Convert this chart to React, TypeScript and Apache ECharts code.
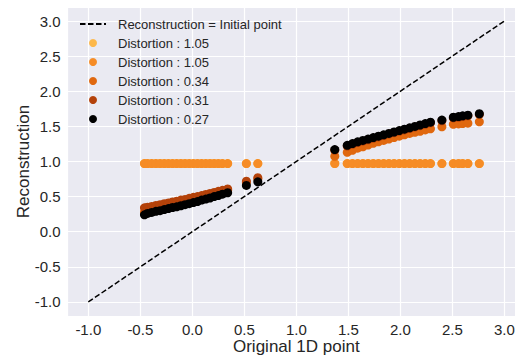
import React, { useEffect, useRef } from "react";
import * as echarts from "echarts";

// Original 1D points (x)
const originalPoints = [
  -0.46, -0.43, -0.39, -0.35, -0.31, -0.27, -0.23, -0.19, -0.15, -0.11, -0.07,
  -0.03, 0.01, 0.05, 0.09, 0.13, 0.17, 0.21, 0.25, 0.29, 0.34,
  0.52, 0.63,
  1.37, 1.49, 1.54, 1.59, 1.64, 1.69, 1.74, 1.79, 1.84, 1.89, 1.94, 1.99, 2.04,
  2.09, 2.14, 2.19, 2.24, 2.29, 2.40, 2.51, 2.56, 2.60, 2.65, 2.76,
];

// Reconstructions for each quantizer
const reconDistortion105a = [
  0.97, 0.97, 0.97, 0.97, 0.97, 0.97, 0.97, 0.97, 0.97, 0.97, 0.97,
  0.97, 0.97, 0.97, 0.97, 0.97, 0.97, 0.97, 0.97, 0.97, 0.97,
  0.97, 0.97,
  0.97, 0.97, 0.97, 0.97, 0.97, 0.97, 0.97, 0.97, 0.97, 0.97, 0.97, 0.97, 0.97,
  0.97, 0.97, 0.97, 0.97, 0.97, 0.97, 0.97, 0.97, 0.97, 0.97, 0.97,
];
const reconDistortion105b = [
  0.97, 0.97, 0.97, 0.97, 0.97, 0.97, 0.97, 0.97, 0.97, 0.97, 0.97,
  0.97, 0.97, 0.97, 0.97, 0.97, 0.97, 0.97, 0.97, 0.97, 0.97,
  0.97, 0.97,
  0.97, 0.97, 0.97, 0.97, 0.97, 0.97, 0.97, 0.97, 0.97, 0.97, 0.97, 0.97, 0.97,
  0.97, 0.97, 0.97, 0.97, 0.97, 0.97, 0.97, 0.97, 0.97, 0.97, 0.97,
];
const reconDistortion034 = [
  0.28, 0.295, 0.31, 0.325, 0.335, 0.35, 0.365, 0.38, 0.39, 0.405, 0.42,
  0.435, 0.45, 0.465, 0.485, 0.5, 0.515, 0.535, 0.55, 0.57, 0.59,
  0.7, 0.75,
  1.075, 1.13, 1.16, 1.19, 1.21, 1.235, 1.26, 1.28, 1.3, 1.32, 1.34, 1.36, 1.38,
  1.4, 1.415, 1.43, 1.45, 1.465, 1.495, 1.53, 1.535, 1.54, 1.545, 1.565,
];
const reconDistortion031 = [
  0.34, 0.35, 0.36, 0.375, 0.385, 0.4, 0.41, 0.425, 0.435, 0.45, 0.46,
  0.475, 0.49, 0.5, 0.515, 0.53, 0.545, 0.56, 0.575, 0.59, 0.61,
  0.72, 0.77,
  1.16, 1.22, 1.245, 1.27, 1.29, 1.31, 1.33, 1.35, 1.37, 1.39, 1.41, 1.43, 1.45,
  1.47, 1.49, 1.51, 1.53, 1.55, 1.58, 1.62, 1.63, 1.64, 1.65, 1.67,
];
const reconDistortion027 = [
  0.24, 0.26, 0.275, 0.29, 0.3, 0.315, 0.33, 0.345, 0.355, 0.37, 0.385,
  0.4, 0.415, 0.43, 0.45, 0.465, 0.48, 0.5, 0.515, 0.535, 0.555,
  0.66, 0.71,
  1.17, 1.23, 1.255, 1.28, 1.3, 1.32, 1.34, 1.36, 1.38, 1.4, 1.42, 1.44, 1.46,
  1.48, 1.5, 1.52, 1.54, 1.56, 1.59, 1.63, 1.64, 1.65, 1.66, 1.68,
];

const identityLine = [
  [-1, -1],
  [3, 3],
];

const seriesKeys = ["s1", "s2", "s3", "s4", "s5"];
const seriesLabels = [
  "Distortion : 1.05",
  "Distortion : 1.05",
  "Distortion : 0.34",
  "Distortion : 0.31",
  "Distortion : 0.27",
];
const seriesValues = [
  reconDistortion105a,
  reconDistortion105b,
  reconDistortion034,
  reconDistortion031,
  reconDistortion027,
];
const seriesColors = ["#FDB84A", "#F68C26", "#E0680F", "#B4420A", "#000000"];

const lineName = "Reconstruction = Initial point";

const FONT = "Liberation Sans, Arial, sans-serif";
const TEXT = "#262626";

export default function App() {
  const ref = useRef<HTMLDivElement>(null);

  useEffect(() => {
    if (!ref.current) return;
    const chart = echarts.init(ref.current, undefined, { renderer: "svg" });

    const labelMap: Record<string, string> = { [lineName]: lineName };
    seriesKeys.forEach((k, i) => (labelMap[k] = seriesLabels[i]));

    const scatterSeries = seriesKeys.map((key, i) => ({
      name: key,
      type: "scatter",
      z: 2,
      symbol: "circle",
      symbolSize: 9,
      itemStyle: { color: seriesColors[i], opacity: 1 },
      data: originalPoints.map((x, j) => [x, seriesValues[i][j]]),
    }));

    chart.setOption({
      animation: false,
      backgroundColor: "#ffffff",
      textStyle: { fontFamily: FONT },
      grid: {
        left: 67.5,
        top: 7,
        width: 457.6,
        height: 309,
        show: true,
        backgroundColor: "#EAEAF2",
        borderWidth: 0,
        containLabel: false,
        outerBoundsMode: "none",
      },
      legend: {
        show: true,
        orient: "vertical",
        left: 79,
        top: 17,
        padding: 0,
        itemWidth: 26,
        itemHeight: 8,
        itemGap: 5,
        data: [
          { name: lineName, itemStyle: { opacity: 0 } },
          ...seriesKeys.map((k) => ({ name: k, icon: "circle" })),
        ],
        formatter: (name: string) => labelMap[name] ?? name,
        textStyle: {
          fontFamily: FONT,
          fontSize: 13,
          color: TEXT,
          lineHeight: 14,
          padding: [0, 0, 0, 7],
        },
      },
      xAxis: {
        type: "value",
        min: -1.2,
        max: 3.2,
        splitNumber: 9,
        name: "Original 1D point",
        nameLocation: "middle",
        nameGap: 22,
        nameMoveOverlap: false,
        nameTextStyle: {
          fontFamily: FONT,
          fontSize: 17,
          lineHeight: 17,
          color: TEXT,
        },
        axisLine: { show: false },
        axisTick: { show: false },
        axisLabel: {
          fontFamily: FONT,
          fontSize: 15,
          color: TEXT,
          margin: 6,
          showMinLabel: false,
          showMaxLabel: false,
          formatter: (v: number) => v.toFixed(1),
        },
        splitLine: { show: true, lineStyle: { color: "#ffffff", width: 1.2 } },
      },
      yAxis: {
        type: "value",
        min: -1.2,
        max: 3.2,
        splitNumber: 9,
        name: "Reconstruction",
        nameLocation: "middle",
        nameGap: 36,
        nameMoveOverlap: false,
        nameTextStyle: { fontFamily: FONT, fontSize: 17, color: TEXT },
        axisLine: { show: false },
        axisTick: { show: false },
        axisLabel: {
          fontFamily: FONT,
          fontSize: 15,
          color: TEXT,
          margin: 7,
          showMinLabel: false,
          showMaxLabel: false,
          formatter: (v: number) => v.toFixed(1),
        },
        splitLine: { show: true, lineStyle: { color: "#ffffff", width: 1.2 } },
      },
      series: [
        {
          name: lineName,
          type: "line",
          z: 3,
          symbol: "none",
          showSymbol: false,
          lineStyle: { color: "#000000", width: 1.5, type: [5.5, 2.5] },
          itemStyle: { color: "#000000" },
          data: identityLine,
        },
        ...scatterSeries,
      ],
    });

    return () => chart.dispose();
  }, []);

  return (
    <div
      ref={ref}
      style={{ position: "fixed", left: 0, top: 0, width: 515, height: 356 }}
    />
  );
}
